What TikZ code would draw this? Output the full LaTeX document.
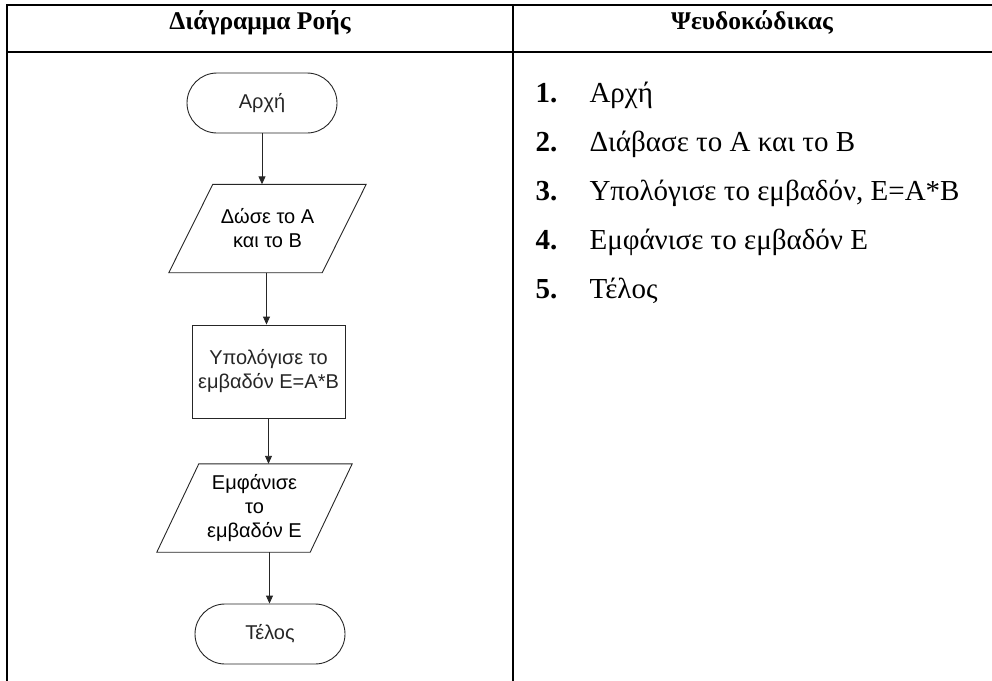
\documentclass[tikz,border=0pt]{standalone}
\usepackage{fontspec}
\setmainfont{Liberation Serif}
\newfontfamily\arialf{Liberation Sans}
\usetikzlibrary{arrows.meta}
\tikzset{
  tblline/.style={line width=2pt, black},
  hdr/.style={anchor=base, font=\bfseries\fontsize{25.5}{30}\selectfont},
  fcline/.style={line width=0.9pt, black!85},
  fctext/.style={font=\arialf\fontsize{20}{24}\selectfont, align=center, inner sep=0pt},
  terminal/.style={fctext, draw, fcline, rounded corners=30pt, minimum width=150pt, minimum height=60pt},
  procbox/.style={fctext, draw, fcline, minimum width=153pt, minimum height=93pt},
  iobox/.style={fctext, minimum width=153pt, minimum height=88pt},
  flow/.style={fcline, -{Triangle[length=8pt, width=7pt]}},
  num/.style={anchor=base west, font=\bfseries\fontsize{29}{34}\selectfont},
  step text/.style={anchor=base west, font=\fontsize{29}{34}\selectfont}
}
\newcommand{\iooutline}[2]{% parallelogram drawn around an invisible node
  \draw[fcline] ([xshift=#2]#1.north west) -- ([xshift=#2]#1.north east)
    -- ([xshift=-#2]#1.south east) -- ([xshift=-#2]#1.south west) -- cycle;}
\begin{document}
\begin{tikzpicture}[x=1pt, y=-1pt]
\useasboundingbox (0,0) rectangle (992,680);

% table frame
\draw[tblline] (7,681) -- (7,5) -- (993,5);
\draw[tblline] (7,52) -- (993,52);
\draw[tblline] (513,5) -- (513,681);

% column headers
\node[hdr] (h1) at (260,29.5) {Διάγραμμα Ροής};
\node[hdr] (h2) at (752,29.5) {Ψευδοκώδικας};

% flowchart
\node[terminal] (start) at (262,103) {Αρχή};
\node[iobox] (input) at (267.5,228.5) {Δώσε το Α\\και το Β};
\iooutline{input}{22pt}
\node[procbox] (calc) at (268.5,371.5) {Υπολόγισε το\\εμβαδόν Ε=Α*Β};
\node[iobox] (output) at (254.5,508) {Εμφάνισε\\το\\εμβαδόν Ε};
\iooutline{output}{21pt}
\node[terminal] (stop) at (270,634) {Τέλος};

\draw[flow] (start.south) -- (start.south |- input.north);
\draw[flow] ([xshift=-1pt]input.south) -- ([xshift=-1pt]input.south |- calc.north);
\draw[flow] (calc.south) -- (calc.south |- output.north);
\draw[flow] ([xshift=15pt]output.south) -- ([xshift=15pt]output.south |- stop.north);

% pseudocode
\node[num] (n1) at (532,102) {1.};
\node[step text] (s1) at (586,102) {Αρχή};
\node[num] (n2) at (532,151) {2.};
\node[step text] (s2) at (586,151) {Διάβασε το Α και το Β};
\node[num] (n3) at (532,200) {3.};
\node[step text] (s3) at (586,200) {Υπολόγισε το εμβαδόν, Ε=Α*Β};
\node[num] (n4) at (532,249) {4.};
\node[step text] (s4) at (586,249) {Εμφάνισε το εμβαδόν Ε};
\node[num] (n5) at (532,298) {5.};
\node[step text] (s5) at (586,298) {Τέλος};
\end{tikzpicture}
\end{document}
